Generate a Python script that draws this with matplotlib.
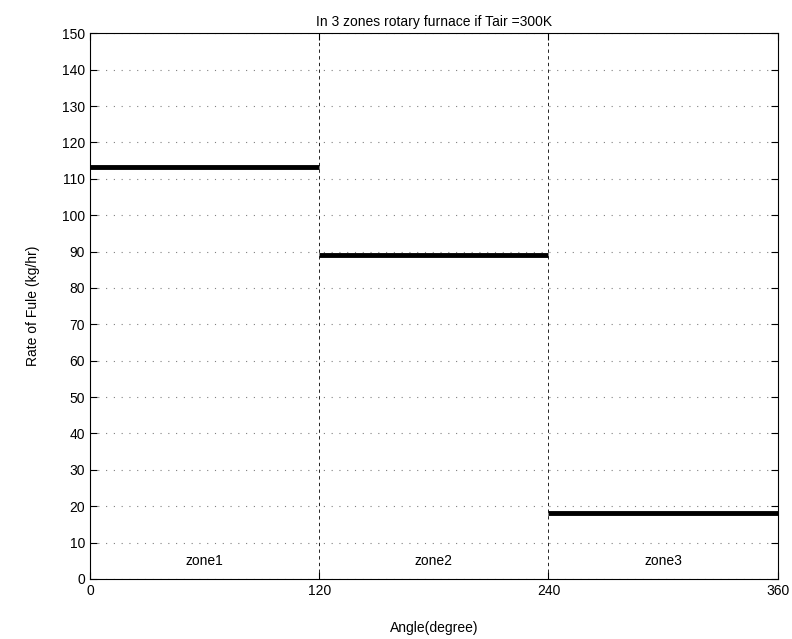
import matplotlib.pyplot as plt

plt.rcParams['font.family'] = ['Liberation Sans', 'DejaVu Sans']

zone_starts = [0, 120, 240]
zone_ends = [120, 240, 360]
fuel_rate = [113.3, 89.0, 18.2]
zone_names = ['zone1', 'zone2', 'zone3']

fig = plt.figure(figsize=(7.92, 6.39), dpi=100)
ax = fig.add_axes([0.1136, 0.0939, 0.8684, 0.854])

ax.hlines(fuel_rate, zone_starts, zone_ends, colors='black', linewidth=3.5)
for s, e, name in zip(zone_starts, zone_ends, zone_names):
    ax.text((s + e) / 2, 5, name, ha='center', va='center', fontsize=10)

ax.set_xlim(0, 360)
ax.set_ylim(0, 150)
ax.set_xticks([0, 120, 240, 360])
ax.set_yticks(range(0, 151, 10))
ax.xaxis.grid(True, color='black', linestyle=(0, (4, 4)), linewidth=0.6)
ax.yaxis.grid(True, color='gray', linestyle=(0, (1, 6)), linewidth=0.8)
ax.tick_params(direction='in', top=True, right=True, labelsize=10, length=5)
for sp in ax.spines.values():
    sp.set_linewidth(0.8)

ax.set_title('In 3 zones rotary furnace if Tair =300K', fontsize=10, pad=5)
ax.set_xlabel('Angle(degree)', fontsize=10, labelpad=17)
ax.set_ylabel('Rate of Fule (kg/hr)', fontsize=10, labelpad=16)

fig.savefig('out.png', dpi=100)
